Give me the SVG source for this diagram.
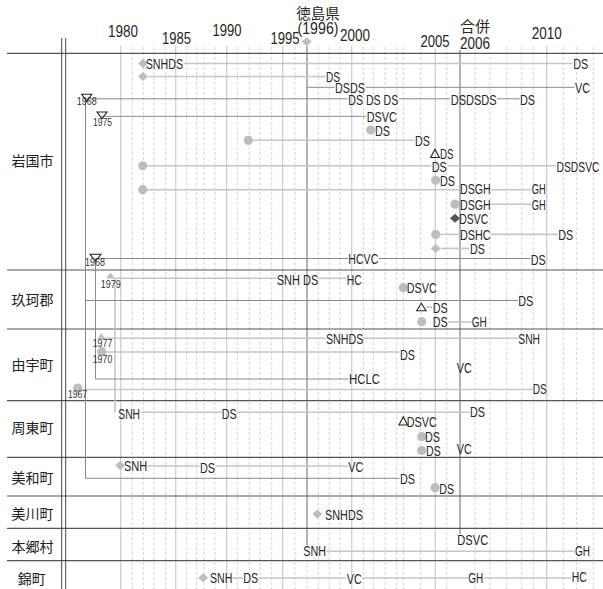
<svg xmlns="http://www.w3.org/2000/svg" width="603" height="589" viewBox="0 0 603 589">
<defs>
<style>
.sep{stroke:#555;stroke-width:1.2;fill:none}
.dbl{stroke:#444;stroke-width:1;fill:none}
.g5{stroke:#cfcfcf;stroke-width:1.3}
.gd{stroke:#d4d4d4;stroke-width:1;stroke-dasharray:3 2}
.gk{stroke:#a0a0a0;stroke-width:1.6}
.ln{stroke:#c6c6c6;stroke-width:1.6;fill:none}
.lk{stroke:#8a8a8a;stroke-width:1;fill:none}
.t{font-family:"Liberation Sans",Arial,sans-serif;font-size:15px;fill:#262626}
.yr{font-family:"Liberation Sans",Arial,sans-serif;font-size:16px;fill:#262626;text-anchor:middle}
.jp{font-family:"Noto Sans CJK JP","Noto Sans CJK SC",sans-serif;fill:#262626;text-anchor:middle}
.sm{font-family:"Liberation Sans",Arial,sans-serif;font-size:10px;fill:#333}
.rl{font-family:"Noto Sans CJK JP","Noto Sans CJK SC",sans-serif;font-size:14px;fill:#222;text-anchor:middle}
.mg{fill:#bdbdbd}
.md{fill:#555}
.tri{fill:none;stroke:#222;stroke-width:1.1}
</style>
<path id="dia" d="M0,-4.5 L5,0 L0,4.5 L-5,0Z"/>
</defs>
<rect width="603" height="589" fill="#fff"/>

<g id="grid">
<g class="gd">
<line x1="132.3" y1="47" x2="132.3" y2="589"/><line x1="143.3" y1="47" x2="143.3" y2="589"/>
<line x1="154" y1="47" x2="154" y2="589"/><line x1="165.7" y1="47" x2="165.7" y2="589"/>
<line x1="186.7" y1="47" x2="186.7" y2="589"/><line x1="196.7" y1="47" x2="196.7" y2="589"/>
<line x1="204" y1="47" x2="204" y2="589"/><line x1="215" y1="47" x2="215" y2="589"/>
<line x1="237.3" y1="47" x2="237.3" y2="589"/><line x1="249.3" y1="47" x2="249.3" y2="589"/>
<line x1="260" y1="47" x2="260" y2="589"/><line x1="271.7" y1="47" x2="271.7" y2="589"/>
<line x1="295" y1="47" x2="295" y2="589"/><line x1="318.3" y1="47" x2="318.3" y2="589"/>
<line x1="329.3" y1="47" x2="329.3" y2="589"/><line x1="340" y1="47" x2="340" y2="589"/>
<line x1="363.3" y1="47" x2="363.3" y2="589"/><line x1="373.3" y1="47" x2="373.3" y2="589"/>
<line x1="385" y1="47" x2="385" y2="589"/><line x1="396.7" y1="47" x2="396.7" y2="589"/>
<line x1="403.3" y1="47" x2="403.3" y2="589"/><line x1="420.7" y1="47" x2="420.7" y2="589"/>
<line x1="446.7" y1="47" x2="446.7" y2="589"/><line x1="475" y1="47" x2="475" y2="589"/>
<line x1="490" y1="47" x2="490" y2="589"/><line x1="506.7" y1="47" x2="506.7" y2="589"/>
<line x1="521.7" y1="47" x2="521.7" y2="589"/><line x1="533.3" y1="47" x2="533.3" y2="589"/>
<line x1="563.3" y1="47" x2="563.3" y2="589"/><line x1="576.7" y1="47" x2="576.7" y2="589"/>
<line x1="593.3" y1="47" x2="593.3" y2="589"/>
<line x1="307" y1="545" x2="307" y2="589"/>
</g>
<g class="g5">
<line x1="120.7" y1="46" x2="120.7" y2="589"/><line x1="175.7" y1="46" x2="175.7" y2="589"/>
<line x1="226.7" y1="46" x2="226.7" y2="589"/><line x1="282.7" y1="46" x2="282.7" y2="589"/>
<line x1="351.7" y1="46" x2="351.7" y2="589"/><line x1="435.3" y1="48" x2="435.3" y2="589"/>
<line x1="546.7" y1="46" x2="546.7" y2="589"/>
</g>
<g class="gk">
<line x1="307" y1="46" x2="307" y2="545"/>
<line x1="460" y1="50" x2="460" y2="534"/>
</g>
</g>

<g id="frame">
<line class="sep" x1="7" y1="53.3" x2="603" y2="53.3"/>
<line class="sep" x1="7" y1="270" x2="603" y2="270"/>
<line class="sep" x1="7" y1="329" x2="603" y2="329"/>
<line class="sep" x1="7" y1="400.7" x2="603" y2="400.7"/>
<line class="sep" x1="7" y1="457.3" x2="603" y2="457.3"/>
<line class="sep" x1="7" y1="496" x2="603" y2="496"/>
<line class="sep" x1="7" y1="528.3" x2="603" y2="528.3"/>
<line class="sep" x1="7" y1="560.7" x2="603" y2="560.7"/>
<line class="dbl" x1="61.7" y1="38" x2="61.7" y2="589"/>
<line class="dbl" x1="65.7" y1="38" x2="65.7" y2="589"/>
</g>

<g id="axis">
<text class="yr" x="123" y="37" textLength="30" lengthAdjust="spacingAndGlyphs">1980</text>
<text class="yr" x="176.5" y="44" textLength="29" lengthAdjust="spacingAndGlyphs">1985</text>
<text class="yr" x="227" y="35.5" textLength="29" lengthAdjust="spacingAndGlyphs">1990</text>
<text class="yr" x="285" y="44" textLength="29" lengthAdjust="spacingAndGlyphs">1995</text>
<text class="yr" x="355" y="40.5" textLength="30" lengthAdjust="spacingAndGlyphs">2000</text>
<text class="yr" x="435" y="46.5" textLength="29" lengthAdjust="spacingAndGlyphs">2005</text>
<text class="yr" x="475" y="48.5" textLength="30" lengthAdjust="spacingAndGlyphs">2006</text>
<text class="yr" x="546.7" y="39" textLength="30" lengthAdjust="spacingAndGlyphs">2010</text>
<text class="yr" x="318" y="33.5" textLength="41" lengthAdjust="spacingAndGlyphs">(1996)</text>
<text class="jp" x="318" y="19" font-size="14.5">徳島県</text>
<text class="jp" x="475" y="32" font-size="15">合併</text>
<use href="#dia" class="mg" x="306.7" y="41.7"/>
</g>

<g id="connectors">
<g class="ln">
<line x1="183.5" y1="63.5" x2="572.5" y2="63.5"/>
<line x1="148" y1="76.5" x2="325.5" y2="76.5"/>
<line x1="253" y1="140.3" x2="414.5" y2="140.3"/>
<line x1="147" y1="165.8" x2="431" y2="165.8"/>
<line x1="447.5" y1="165.8" x2="556" y2="165.8"/>
<line x1="147" y1="189.7" x2="459.5" y2="189.7"/>
<line x1="491" y1="189.7" x2="531" y2="189.7"/>
<line x1="491" y1="204.2" x2="531" y2="204.2"/>
<line x1="440" y1="234.4" x2="459.5" y2="234.4"/>
<line x1="491" y1="234.4" x2="558" y2="234.4"/>
<line x1="441" y1="248.4" x2="469.5" y2="248.4"/>
<line x1="115" y1="278.3" x2="115" y2="412.3"/>
<line x1="115" y1="278.3" x2="276.5" y2="278.3"/>
<line x1="318.5" y1="278.3" x2="346.5" y2="278.3"/>
<line x1="426" y1="307" x2="432.5" y2="307"/>
<line x1="448" y1="322" x2="471.5" y2="322"/>
<line x1="105" y1="338.3" x2="325.5" y2="338.3"/>
<line x1="363.5" y1="338.3" x2="518" y2="338.3"/>
<line x1="106" y1="352" x2="399.5" y2="352"/>
<line x1="82" y1="389.5" x2="532.5" y2="389.5"/>
<line x1="140.5" y1="412.3" x2="221.5" y2="412.3"/>
<line x1="237" y1="412.3" x2="469.5" y2="412.3"/>
<line x1="147.5" y1="466" x2="199.5" y2="466"/>
<line x1="215.5" y1="466" x2="348" y2="466"/>
<line x1="326.5" y1="551.3" x2="574.5" y2="551.3"/>
<line x1="232.5" y1="578" x2="243" y2="578"/>
<line x1="258.5" y1="578" x2="346.5" y2="578"/>
<line x1="362" y1="578" x2="468" y2="578"/>
<line x1="483.5" y1="578" x2="571.5" y2="578"/>
</g>
<g class="lk">
<line x1="307" y1="87.3" x2="334.5" y2="87.3"/>
<line x1="365.5" y1="87.3" x2="574.5" y2="87.3"/>
<line x1="85.5" y1="98.8" x2="347.5" y2="98.8"/>
<line x1="398.5" y1="98.8" x2="450" y2="98.8"/>
<line x1="497" y1="98.8" x2="519.5" y2="98.8"/>
<line x1="85.5" y1="98.8" x2="85.5" y2="478.3"/>
<line x1="102" y1="116.3" x2="366" y2="116.3"/>
<line x1="95.5" y1="258.5" x2="348" y2="258.5"/>
<line x1="378.5" y1="258.5" x2="530.5" y2="258.5"/>
<line x1="95.5" y1="258.5" x2="95.5" y2="379"/>
<line x1="85.5" y1="300.5" x2="518" y2="300.5"/>
<line x1="95.5" y1="379" x2="348.5" y2="379"/>
<line x1="85.5" y1="478.3" x2="399.5" y2="478.3"/>
</g>
</g>

<g id="row-iwakuni">
<text class="rl" x="32.5" y="166">岩国市</text>
<use href="#dia" class="mg" x="143" y="63.5"/>
<text class="t" x="145.7" y="69" textLength="37.5" lengthAdjust="spacingAndGlyphs">SNHDS</text>
<text class="t" x="573.3" y="69" textLength="15" lengthAdjust="spacingAndGlyphs">DS</text>
<use href="#dia" class="mg" x="143" y="76.5"/>
<text class="t" x="326" y="81.5" textLength="14" lengthAdjust="spacingAndGlyphs">DS</text>
<text class="t" x="335" y="92.5" textLength="30" lengthAdjust="spacingAndGlyphs">DSDS</text>
<text class="t" x="575" y="92.5" textLength="15" lengthAdjust="spacingAndGlyphs">VC</text>
<path class="tri" d="M81.7,94.3 L91.7,94.3 L86.7,101.5Z"/>
<text class="sm" x="76.7" y="105" textLength="20" lengthAdjust="spacingAndGlyphs">1968</text>
<text class="t" x="348.3" y="104.5" textLength="50" lengthAdjust="spacingAndGlyphs">DS DS DS</text>
<text class="t" x="450.7" y="104.5" textLength="46" lengthAdjust="spacingAndGlyphs">DSDSDS</text>
<text class="t" x="520" y="104.5" textLength="15" lengthAdjust="spacingAndGlyphs">DS</text>
<path class="tri" d="M97,112 L107,112 L102,118.5Z"/>
<text class="sm" x="93" y="126" textLength="19" lengthAdjust="spacingAndGlyphs">1975</text>
<text class="t" x="366.7" y="122" textLength="30" lengthAdjust="spacingAndGlyphs">DSVC</text>
<circle class="mg" cx="370.7" cy="130" r="4.6"/>
<text class="t" x="375" y="135.5" textLength="15" lengthAdjust="spacingAndGlyphs">DS</text>
<circle class="mg" cx="248.3" cy="140.3" r="4.6"/>
<text class="t" x="415" y="145.5" textLength="15" lengthAdjust="spacingAndGlyphs">DS</text>
<path class="tri" d="M430.7,157.5 L439.3,157.5 L435,149.2Z"/>
<text class="t" x="440" y="158.5" textLength="13.5" lengthAdjust="spacingAndGlyphs">DS</text>
<circle class="mg" cx="142.7" cy="165.8" r="4.6"/>
<text class="t" x="431.7" y="172" textLength="15" lengthAdjust="spacingAndGlyphs">DS</text>
<text class="t" x="556.5" y="171.5" textLength="43" lengthAdjust="spacingAndGlyphs">DSDSVC</text>
<circle class="mg" cx="435.7" cy="180.3" r="4.6"/>
<text class="t" x="440" y="185.5" textLength="15" lengthAdjust="spacingAndGlyphs">DS</text>
<circle class="mg" cx="142.7" cy="189.7" r="4.6"/>
<text class="t" x="460" y="194" textLength="30.7" lengthAdjust="spacingAndGlyphs">DSGH</text>
<text class="t" x="531.7" y="194" textLength="14" lengthAdjust="spacingAndGlyphs">GH</text>
<circle class="mg" cx="455" cy="204.2" r="4.6"/>
<text class="t" x="460" y="209.5" textLength="30.7" lengthAdjust="spacingAndGlyphs">DSGH</text>
<text class="t" x="531.7" y="209.5" textLength="14" lengthAdjust="spacingAndGlyphs">GH</text>
<use href="#dia" class="md" x="455" y="218.3"/>
<text class="t" x="459.3" y="224" textLength="29" lengthAdjust="spacingAndGlyphs">DSVC</text>
<circle class="mg" cx="435.7" cy="234.4" r="4.6"/>
<text class="t" x="460" y="239.5" textLength="30.7" lengthAdjust="spacingAndGlyphs">DSHC</text>
<text class="t" x="558.3" y="239.5" textLength="15" lengthAdjust="spacingAndGlyphs">DS</text>
<use href="#dia" class="mg" x="435.7" y="248.4"/>
<text class="t" x="470" y="254" textLength="15" lengthAdjust="spacingAndGlyphs">DS</text>
<path class="tri" d="M90,254.3 L101,254.3 L95.5,261Z"/>
<text class="sm" x="85" y="265.7" textLength="20" lengthAdjust="spacingAndGlyphs">1968</text>
<text class="t" x="348.3" y="264" textLength="30" lengthAdjust="spacingAndGlyphs">HCVC</text>
<text class="t" x="530.7" y="265.3" textLength="15" lengthAdjust="spacingAndGlyphs">DS</text>
</g>

<g id="row-kuga">
<text class="rl" x="32.5" y="305">玖珂郡</text>
<path class="mg" d="M106,278.5 L115,278.5 L110.5,272.5Z"/>
<text class="sm" x="100.7" y="287.5" textLength="20" lengthAdjust="spacingAndGlyphs">1979</text>
<text class="t" x="276.7" y="285" textLength="41.6" lengthAdjust="spacingAndGlyphs">SNH DS</text>
<text class="t" x="346.7" y="285.3" textLength="15" lengthAdjust="spacingAndGlyphs">HC</text>
<circle class="mg" cx="403.3" cy="287.7" r="4.6"/>
<text class="t" x="406.7" y="293.2" textLength="30" lengthAdjust="spacingAndGlyphs">DSVC</text>
<text class="t" x="518.3" y="306.2" textLength="15" lengthAdjust="spacingAndGlyphs">DS</text>
<path class="tri" d="M416.7,310.7 L426,310.7 L421.3,303.3Z"/>
<text class="t" x="432.7" y="312.5" textLength="15" lengthAdjust="spacingAndGlyphs">DS</text>
<circle class="mg" cx="421.7" cy="321.7" r="4.6"/>
<text class="t" x="432.7" y="327.4" textLength="15" lengthAdjust="spacingAndGlyphs">DS</text>
<text class="t" x="471.7" y="327.4" textLength="15" lengthAdjust="spacingAndGlyphs">GH</text>
</g>

<g id="row-yuu">
<text class="rl" x="32.5" y="370">由宇町</text>
<path class="mg" d="M97,339.5 L105.5,339.5 L101.2,333Z"/>
<text class="sm" x="92.7" y="347" textLength="19.6" lengthAdjust="spacingAndGlyphs">1977</text>
<text class="t" x="326" y="343.7" textLength="37.3" lengthAdjust="spacingAndGlyphs">SNHDS</text>
<text class="t" x="518.3" y="343.7" textLength="21.7" lengthAdjust="spacingAndGlyphs">SNH</text>
<circle class="mg" cx="101.7" cy="351.7" r="4.6"/>
<text class="sm" x="92.7" y="362.5" textLength="19.6" lengthAdjust="spacingAndGlyphs">1970</text>
<text class="t" x="400" y="360.3" textLength="15" lengthAdjust="spacingAndGlyphs">DS</text>
<text class="t" x="456.7" y="372.8" textLength="15" lengthAdjust="spacingAndGlyphs">VC</text>
<text class="t" x="349" y="384.4" textLength="31" lengthAdjust="spacingAndGlyphs">HCLC</text>
<circle class="mg" cx="77.7" cy="388" r="4.6"/>
<text class="sm" x="68" y="398" textLength="19" lengthAdjust="spacingAndGlyphs">1967</text>
<text class="t" x="532.7" y="394.4" textLength="14" lengthAdjust="spacingAndGlyphs">DS</text>
</g>

<g id="row-shuto">
<text class="rl" x="32.5" y="433">周東町</text>
<text class="t" x="118.3" y="419.2" textLength="21.7" lengthAdjust="spacingAndGlyphs">SNH</text>
<text class="t" x="221.7" y="418.7" textLength="15" lengthAdjust="spacingAndGlyphs">DS</text>
<text class="t" x="470" y="417" textLength="15" lengthAdjust="spacingAndGlyphs">DS</text>
<path class="tri" d="M399,425 L407.5,425 L403.3,416.7Z"/>
<text class="t" x="406.7" y="427" textLength="30" lengthAdjust="spacingAndGlyphs">DSVC</text>
<circle class="mg" cx="421.7" cy="436.7" r="4.6"/>
<text class="t" x="425" y="442" textLength="15" lengthAdjust="spacingAndGlyphs">DS</text>
<circle class="mg" cx="421.7" cy="450.5" r="4.6"/>
<text class="t" x="426" y="455.6" textLength="14.7" lengthAdjust="spacingAndGlyphs">DS</text>
<text class="t" x="456.7" y="454.2" textLength="15" lengthAdjust="spacingAndGlyphs">VC</text>
</g>

<g id="row-miwa">
<text class="rl" x="32.5" y="483">美和町</text>
<use href="#dia" class="mg" x="120" y="465.5"/>
<text class="t" x="124" y="470.9" textLength="23.3" lengthAdjust="spacingAndGlyphs">SNH</text>
<text class="t" x="200" y="473.2" textLength="15" lengthAdjust="spacingAndGlyphs">DS</text>
<text class="t" x="348.3" y="472" textLength="15" lengthAdjust="spacingAndGlyphs">VC</text>
<text class="t" x="400" y="484.2" textLength="15" lengthAdjust="spacingAndGlyphs">DS</text>
<circle class="mg" cx="435" cy="487.7" r="4.6"/>
<text class="t" x="439.3" y="493.7" textLength="14.7" lengthAdjust="spacingAndGlyphs">DS</text>
</g>

<g id="row-mikawa">
<text class="rl" x="32.5" y="519">美川町</text>
<use href="#dia" class="mg" x="317.3" y="514"/>
<text class="t" x="325" y="519.6" textLength="38" lengthAdjust="spacingAndGlyphs">SNHDS</text>
</g>

<g id="row-hongo">
<text class="rl" x="32.5" y="552">本郷村</text>
<text class="t" x="457.3" y="545.4" textLength="31" lengthAdjust="spacingAndGlyphs">DSVC</text>
<text class="t" x="303.3" y="556.2" textLength="22.7" lengthAdjust="spacingAndGlyphs">SNH</text>
<text class="t" x="575" y="555.7" textLength="15" lengthAdjust="spacingAndGlyphs">GH</text>
</g>

<g id="row-nishiki">
<text class="rl" x="31.7" y="584">錦町</text>
<use href="#dia" class="mg" x="203.3" y="577.7"/>
<text class="t" x="210" y="583" textLength="22.3" lengthAdjust="spacingAndGlyphs">SNH</text>
<text class="t" x="243.3" y="583.4" textLength="15" lengthAdjust="spacingAndGlyphs">DS</text>
<text class="t" x="346.7" y="583.7" textLength="15" lengthAdjust="spacingAndGlyphs">VC</text>
<text class="t" x="468.3" y="583" textLength="15" lengthAdjust="spacingAndGlyphs">GH</text>
<text class="t" x="571.7" y="582.1" textLength="15" lengthAdjust="spacingAndGlyphs">HC</text>
</g>
</svg>
